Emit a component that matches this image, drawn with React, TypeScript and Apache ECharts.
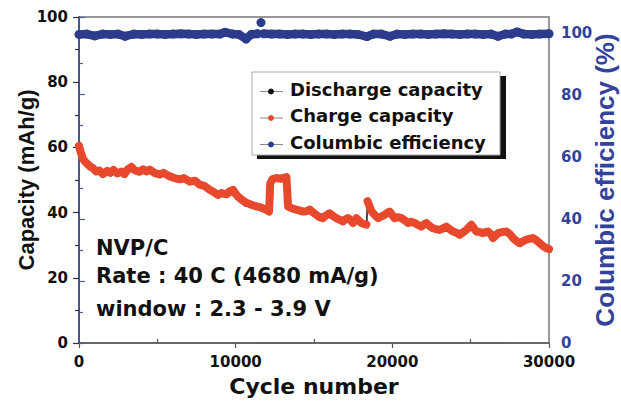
import React, { useEffect, useRef } from "react";
import * as echarts from "echarts";

// Charge capacity (mAh/g) vs cycle number; null = break in the trace
const chargeCycles = [
  0, 80, 250, 450, 700, 900, 1100, 1300, 1530, 1800, 2000, 2200, 2450, 2700, 2900, 3100, 3340, 3550,
  3870, 4100, 4300, 4510, 4800, 5150, 5400, 5790, 6100, 6430, 6700, 7070, 7400, 7700, 8000, 8340,
  8600, 8870, 9100, 9410, 9600, 9830, 10000, 10150, 10400, 10680, 11000, 11320, 11650, 11960, 12130,
  12210, 12350, 12600, 12900, 13240, 13300, 13340, 13600, 13870, 14100, 14300, 14500, 14730, 14950,
  15150, 15350, 15570, 15800, 16000, 16200, 16430, 16650, 16850, 17000, 17170, 17350, 17490, 17700,
  17850, 18030, 18200, 18340, 18380, 18420, 18660, 18870, 19090, 19300, 19510, 19700, 19830, 20000,
  20150, 20350, 20580, 20800, 21000, 21200, 21430, 21650, 21860, 22000, 22170, 22400, 22600, 22800,
  23020, 23250, 23450, 23650, 23870, 24100, 24300, 24500, 24730, 24900, 25050, 25200, 25370, 25600,
  25790, 25950, 26110, 26300, 26430, 26600, 26750, 27000, 27280, 27500, 27700, 27900, 28130, 28350,
  28560, 28800, 28980, 29200, 29410, 29600, 29830, 30000,
];
const chargeCapacity: (number | null)[] = [
  60.5, 59, 56.5, 55.3, 54.2, 53.6, 52.6, 52.9, 51.8, 52.8, 52.2, 53.1, 52.0, 52.6, 51.8, 53.2, 54.0, 53.0,
  52.5, 53.3, 52.6, 53.2, 52.2, 51.7, 52.2, 51.1, 50.6, 50.2, 50.6, 49.5, 49.8, 48.6, 48.2, 47.0,
  46.3, 45.4, 46.0, 45.6, 46.5, 47.0, 45.8, 44.9, 43.9, 43.0, 42.4, 41.9, 41.5, 40.9, 40.3,
  49.0, 50.3, 50.6, 50.4, 50.9, 46.0, 41.9, 41.3, 40.9, 40.6, 40.3, 40.4, 40.9, 40.0,
  39.3, 38.6, 38.3, 39.2, 39.8, 39.0, 38.3, 37.8, 37.3, 37.9, 38.3, 37.6, 36.8, 38.3,
  37.6, 36.8, 36.5, 36.3, null, 43.5, 40.5, 39.3, 38.3, 38.8, 39.3, 40.0, 40.3, 39.2,
  38.3, 38.6, 38.3, 37.6, 36.8, 37.2, 36.8, 36.2, 35.7, 36.3, 36.8, 35.8, 35.2, 34.9,
  34.7, 35.2, 35.7, 35.0, 34.2, 33.8, 33.2, 33.9, 34.7, 35.6, 36.3, 35.2, 34.2, 34.0,
  33.7, 34.0, 34.2, 33.3, 32.2, 33.0, 33.7, 34.0, 34.2, 33.4, 32.2, 31.4, 30.6, 31.2,
  31.7, 32.0, 32.2, 31.5, 30.6, 29.8, 29.1, 28.8,
];

// Discharge capacity (mAh/g), mostly hidden under the charge trace
const dischargeCycles = [
  0, 500, 1000, 2000, 3000, 4000, 5000, 6000, 7000, 8000, 9000, 10000, 10600, 11000, 12000, 12150,
  12250, 13200, 13350, 14000, 15000, 16000, 17000, 18000, 18370, 18400, 19000, 20000, 21000, 22000,
  23000, 24000, 25000, 26000, 27000, 28000, 29000, 30000,
];
const dischargeCapacity = [
  59.5, 54.8, 52.6, 52.0, 52.5, 52.8, 51.8, 50.7, 49.4, 48.0, 45.6, 45.5, 42.0, 42.0, 40.6, 40.2,
  49.2, 50.6, 41.8, 40.6, 39.4, 39.6, 37.8, 36.8, 36.2, 43.6, 38.6, 39.0, 36.8, 36.1,
  34.7, 33.9, 35.8, 34.0, 33.9, 31.2, 32.0, 28.8,
];

// Columbic efficiency (%); nulls isolate the single outlier
const efficiencyCycles = [
  0, 500, 1000, 1500, 2000, 2500, 2940, 3500, 4000, 4500, 5000, 5500, 6000, 6500, 7000, 7500, 8000,
  8500, 9000, 9320, 9800, 10200, 10660, 11000, 11400, 11500, 11617, 11700, 11800, 12300, 12800,
  13300, 13800, 14300, 14800, 15300, 15800, 16300, 16800, 17300, 17800, 18380, 18800, 19300, 19850,
  20300, 20800, 21300, 21800, 22300, 22800, 23300, 23800, 24300, 24800, 25300, 25800, 26300, 26740,
  27200, 27600, 27960, 28400, 28900, 29400, 30000,
];
const efficiencyValues: (number | null)[] = [
  99.4, 99.5, 98.9, 99.5, 99.4, 99.5, 98.8, 99.5, 99.4, 99.5, 99.5, 99.4, 99.5, 99.6, 99.5, 99.4, 99.5,
  99.5, 99.5, 100.1, 99.5, 99.4, 97.9, 99.4, 99.6, null, 103.2, null, 99.6, 99.5, 99.5,
  99.4, 99.5, 99.5, 99.4, 99.5, 99.5, 99.4, 99.5, 99.5, 99.4, 98.7, 99.5, 99.5, 98.8,
  99.5, 99.4, 99.5, 99.5, 99.4, 99.5, 99.6, 99.5, 99.4, 99.5, 99.5, 99.4, 99.5, 98.8,
  99.5, 99.5, 100.2, 99.5, 99.4, 99.5, 99.6,
];

const legendNames = ["Discharge capacity", "Charge capacity", "Columbic efficiency"];
const legendColors = ["#111111", "#e8482c", "#2c3b8b"];
const noteLines = ["NVP/C", "Rate : 40 C (4680 mA/g)", "window : 2.3 - 3.9 V"];

const RED = "#e8482c";
const BLUE = "#2c3b8b";
const AXIS_BLUE = "#4a59a6";
const LABEL_BLUE = "#33429a";

function pairs(xs: number[], ys: (number | null)[]) {
  return xs.map((x, i) => [x, ys[i] === null ? "-" : ys[i]]);
}

export default function App() {
  const ref = useRef<HTMLDivElement>(null);
  useEffect(() => {
    const chart = echarts.init(ref.current!, null, { renderer: "svg" });
    const plain = (v: number) => String(v);
    const tickFont = { fontFamily: "DejaVu Sans", fontWeight: "bold", fontSize: 15 };
    const legendY = [89, 115.5, 142];
    const noteY = [248, 276, 308.5];
    const graphic: any[] = [
      { type: "rect", shape: { x: 257, y: 76, width: 249, height: 83 }, style: { fill: "#111" }, z: 10 },
      {
        type: "rect",
        shape: { x: 252, y: 72, width: 248, height: 83 },
        style: { fill: "#fff", stroke: "#aaa", lineWidth: 1 },
        z: 11,
      },
    ];
    legendNames.forEach((name, i) => {
      const y = legendY[i] + 2.5;
      graphic.push({
        type: "line",
        shape: { x1: 260, y1: y, x2: 283, y2: y },
        style: { stroke: "#888", lineWidth: 1 },
        z: 12,
      });
      graphic.push({
        type: "circle",
        shape: { cx: 271, cy: y, r: 3 },
        style: { fill: legendColors[i] },
        z: 13,
      });
      graphic.push({
        type: "text",
        x: 290,
        y: legendY[i],
        style: {
          text: name,
          fill: "#111",
          font: "bold 18px 'DejaVu Sans'",
          textAlign: "left",
          textVerticalAlign: "middle",
        },
        z: 13,
      });
    });
    noteLines.forEach((t, i) => {
      graphic.push({
        type: "text",
        x: 96,
        y: noteY[i],
        style: {
          text: t,
          fill: "#111",
          font: "bold 21px 'DejaVu Sans'",
          textAlign: "left",
          textVerticalAlign: "middle",
        },
        z: 13,
      });
    });

    chart.setOption({
      animation: false,
      backgroundColor: "#fff",
      grid: {
        left: 79,
        right: 72,
        top: 17,
        bottom: 61,
        containLabel: false,
        outerBoundsMode: "none",
        show: true,
        borderColor: "#777",
        borderWidth: 1.5,
        backgroundColor: "transparent",
      },
      xAxis: [
        {
          type: "value",
          min: 0,
          max: 30000,
          interval: 10000,
          position: "bottom",
          axisLine: { show: true, lineStyle: { color: "#555", width: 1.5 } },
          axisTick: { show: true, length: 5, lineStyle: { color: "#555", width: 1.2 } },
          axisLabel: { ...tickFont, color: "#111", margin: 11, formatter: plain },
          splitLine: { show: false },
          name: "Cycle number",
          nameLocation: "middle",
          nameGap: 32,
          nameMoveOverlap: false,
          nameTextStyle: { fontFamily: "DejaVu Sans", fontWeight: "bold", fontSize: 22, color: "#111" },
        },
        {
          type: "value",
          min: 0,
          max: 30000,
          interval: 10000,
          position: "bottom",
          axisLine: { show: false },
          axisTick: { show: false, inside: true },
          minorTick: { show: true, splitNumber: 2, length: 4, lineStyle: { color: "#555", width: 1.2 } },
          axisLabel: { show: false },
          splitLine: { show: false },
        },
      ],
      yAxis: [
        {
          type: "value",
          min: 0,
          max: 100,
          interval: 20,
          position: "left",
          axisLine: { show: true, lineStyle: { color: "#333", width: 1.5 } },
          axisTick: { show: true, length: 6, lineStyle: { color: "#333", width: 1.2 } },
          minorTick: { show: true, splitNumber: 2, length: 4, lineStyle: { color: "#333", width: 1.2 } },
          axisLabel: { ...tickFont, color: "#111", margin: 11, formatter: plain },
          splitLine: { show: false },
          name: "Capacity (mAh/g)",
          nameLocation: "middle",
          nameRotate: 90,
          nameGap: 42,
          nameMoveOverlap: false,
          nameTextStyle: { fontFamily: "Liberation Sans", fontWeight: "bold", fontSize: 22, color: "#111" },
        },
        {
          type: "value",
          min: 0,
          max: 105,
          interval: 20,
          position: "right",
          axisLine: { show: true, lineStyle: { color: AXIS_BLUE, width: 1.5 } },
          axisTick: { show: true, length: 6, lineStyle: { color: AXIS_BLUE, width: 1.2 } },
          minorTick: { show: true, splitNumber: 2, length: 4, lineStyle: { color: AXIS_BLUE, width: 1.2 } },
          axisLabel: { ...tickFont, color: LABEL_BLUE, margin: 12, showMaxLabel: false, formatter: plain },
          splitLine: { show: false },
          name: "Columbic efficiency (%)",
          nameLocation: "middle",
          nameRotate: 90,
          nameGap: 43,
          nameMoveOverlap: false,
          nameTextStyle: { fontFamily: "Liberation Sans", fontWeight: "bold", fontSize: 26, color: LABEL_BLUE },
        },
      ],
      series: [
        {
          name: "Discharge capacity",
          type: "line",
          xAxisIndex: 0,
          yAxisIndex: 0,
          data: pairs(dischargeCycles, dischargeCapacity),
          showSymbol: false,
          lineStyle: { color: "#111", width: 1.5 },
          silent: true,
          z: 2,
        },
        {
          name: "Charge capacity",
          type: "line",
          xAxisIndex: 0,
          yAxisIndex: 0,
          data: pairs(chargeCycles, chargeCapacity),
          showSymbol: false,
          connectNulls: false,
          lineStyle: { color: RED, width: 8, cap: "round", join: "round" },
          silent: true,
          z: 3,
        },
        {
          name: "Columbic efficiency",
          type: "line",
          xAxisIndex: 0,
          yAxisIndex: 1,
          data: pairs(efficiencyCycles, efficiencyValues),
          showSymbol: true,
          symbol: "circle",
          symbolSize: 9,
          connectNulls: false,
          itemStyle: { color: BLUE },
          lineStyle: { color: BLUE, width: 8.5, cap: "round", join: "round" },
          silent: true,
          z: 4,
        },
      ],
      graphic,
    });
    return () => chart.dispose();
  }, []);
  return (
    <div
      ref={ref}
      style={{ position: "fixed", left: 0, top: 0, width: 621, height: 404, background: "#fff" }}
    />
  );
}
